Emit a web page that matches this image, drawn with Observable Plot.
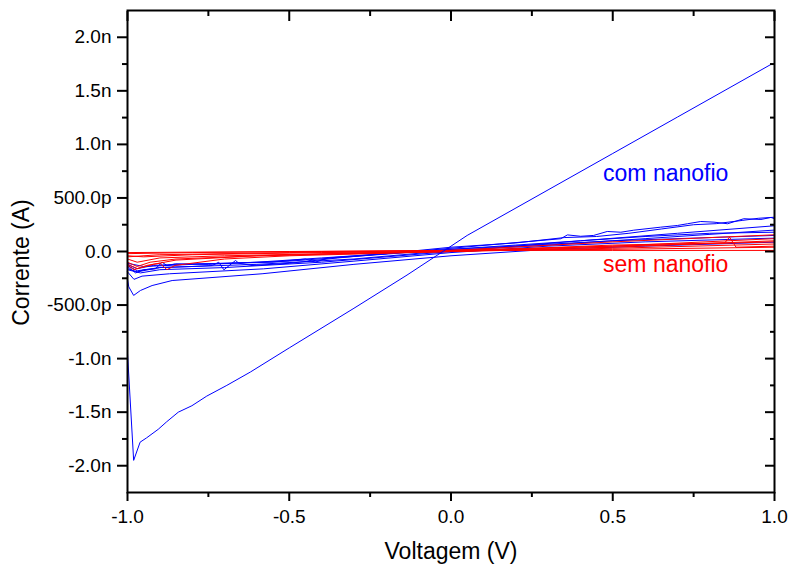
<!DOCTYPE html>
<html>
<head>
<meta charset="utf-8">
<script src="https://cdn.jsdelivr.net/npm/d3@7"></script>
<script src="https://cdn.jsdelivr.net/npm/@observablehq/plot@0.6"></script>
<style>
  html, body { margin: 0; padding: 0; background: #fff; }
  svg { display: block; }
</style>
</head>
<body>
<div id="chart"></div>
<script>
// Axis ticks (current in nA, voltage in V)
const xTicks = [-1, -0.5, 0, 0.5, 1];
const xTickLabels = ["-1.0", "-0.5", "0.0", "0.5", "1.0"];
const xMinorTicks = [-0.75, -0.25, 0.25, 0.75];
const yTicks = [-2, -1.5, -1, -0.5, 0, 0.5, 1, 1.5, 2];
const yTickLabels = ["-2.0n", "-1.5n", "-1.0n", "-500.0p", "0.0", "500.0p", "1.0n", "1.5n", "2.0n"];
const yMinorTicks = [-1.75, -1.25, -0.75, -0.25, 0.25, 0.75, 1.25, 1.75];

// "com nanofio" — large sweep
const b0V = [-1, -0.981, -0.961, -0.941, -0.905, -0.879, -0.843, -0.801, -0.755, -0.693, -0.62, -0.5, -0.3, -0.136, 0, 0.05, 0.3, 0.5, 0.7, 0.85, 0.991];
const b0I = [-0.95, -1.95, -1.78, -1.74, -1.66, -1.59, -1.50, -1.44, -1.35, -1.25, -1.125, -0.9, -0.53, -0.22, 0.05, 0.15, 0.575, 0.915, 1.255, 1.51, 1.75];

// "com nanofio" — other sweeps
const b1V = [-1, -0.996, -0.981, -0.96, -0.924, -0.862, -0.584, -0.3, 0, 0.3, 0.6, 1];
const b1I = [-0.26, -0.33, -0.41, -0.364, -0.318, -0.271, -0.208, -0.12, -0.04, 0.02, 0.05, 0.087];
const b2V = [-1, -0.98, -0.955, -0.87, -0.58, -0.3, 0, 0.3, 0.6, 1];
const b2I = [-0.19, -0.26, -0.23, -0.208, -0.162, -0.09, -0.01, 0.05, 0.09, 0.125];
const b3V = [-1, -0.975, -0.95, -0.914, -0.893, -0.878, -0.852, -0.75, -0.6, -0.4, -0.2, 0, 0.2, 0.4, 0.6, 0.8, 1];
const b3I = [-0.14, -0.2, -0.17, -0.162, -0.10, -0.131, -0.115, -0.12, -0.1, -0.06, -0.02, 0.02, 0.06, 0.1, 0.14, 0.17, 0.18];
const b4V = [-1, -0.97, -0.9, -0.8, -0.738, -0.718, -0.702, -0.666, -0.656, -0.615, -0.5, -0.35, -0.2, 0, 0.15, 0.339, 0.36, 0.401, 0.441, 0.483, 0.525, 0.565, 0.648, 0.7, 0.731, 0.772, 0.813, 0.855, 0.905, 0.958, 0.989, 1];
const b4I = [-0.13, -0.18, -0.15, -0.14, -0.131, -0.10, -0.171, -0.084, -0.109, -0.131, -0.11, -0.06, -0.02, 0.03, 0.07, 0.119, 0.155, 0.142, 0.15, 0.187, 0.18, 0.199, 0.227, 0.243, 0.259, 0.28, 0.274, 0.259, 0.306, 0.299, 0.318, 0.306];
const b5V = [-1, -0.97, -0.92, -0.85, -0.7, -0.55, -0.45, -0.42, -0.38, -0.2, 0, 0.2, 0.35, 0.45, 0.55, 0.65, 0.75, 0.82, 0.9, 0.95, 1];
const b5I = [-0.12, -0.16, -0.13, -0.12, -0.11, -0.1, -0.07, -0.1, -0.06, -0.02, 0.04, 0.08, 0.13, 0.14, 0.17, 0.21, 0.25, 0.26, 0.29, 0.31, 0.32];
const b6V = [-1, -0.96, -0.9, -0.7, -0.4, 0, 0.4, 0.7, 1];
const b6I = [-0.17, -0.2, -0.17, -0.15, -0.1, 0.0, 0.1, 0.17, 0.24];
const b7V = [-1, -0.97, -0.9, -0.6, -0.3, 0, 0.3, 0.6, 1];
const b7I = [-0.16, -0.19, -0.15, -0.12, -0.07, 0.01, 0.06, 0.12, 0.2];
const b8V = [-1, -0.95, -0.8, -0.5, 0, 0.5, 1];
const b8I = [-0.11, -0.14, -0.12, -0.09, 0.02, 0.1, 0.15];

// "sem nanofio" sweeps
const r1V = [-1, -0.5, 0, 0.5, 1];
const r1I = [-0.01, 0.0, 0.01, 0.01, 0.01];
const r2V = [-1, -0.8, -0.4, 0, 0.5, 1];
const r2I = [-0.02, -0.01, 0.0, 0.01, 0.02, 0.04];
const r3V = [-1, -0.95, -0.8, -0.4, 0, 0.5, 1];
const r3I = [-0.04, -0.05, -0.03, -0.01, 0.0, 0.03, 0.07];
const r4V = [-1, -0.97, -0.9, -0.7, -0.3, 0, 0.5, 1];
const r4I = [-0.07, -0.1, -0.06, -0.04, -0.015, 0.0, 0.04, 0.10];
const r5V = [-1, -0.97, -0.93, -0.85, -0.6, 0, 0.5, 1];
const r5I = [-0.1, -0.14, -0.1, -0.07, -0.04, 0.0, 0.05, 0.12];
const r6V = [-1, -0.97, -0.92, -0.9, -0.878, -0.853, -0.7, -0.5, 0, 0.5, 0.846, 0.861, 0.881, 1];
const r6I = [-0.12, -0.16, -0.12, -0.11, -0.17, -0.13, -0.07, -0.04, 0.0, 0.06, 0.08, 0.134, 0.04, 0.05];
const r7V = [-1, -0.98, -0.94, -0.85, -0.6, 0, 0.5, 1];
const r7I = [-0.13, -0.17, -0.13, -0.08, -0.04, 0.01, 0.09, 0.156];
const r8V = [-1, -0.9, -0.5, 0, 0.5, 1];
const r8I = [-0.05, -0.03, -0.01, 0.01, 0.05, 0.09];

const labelText = ["com nanofio", "sem nanofio"];
const labelV = [0.47, 0.47];
const labelI = [0.73, -0.12];
const labelColor = ["#0000ff", "#ff0000"];

function series(name, V, I) { return V.map((v, i) => ({curve: name, V: v, I: I[i]})); }

const blueMain = series("b0", b0V, b0I);
const blueRest = [].concat(
  series("b1", b1V, b1I), series("b2", b2V, b2I), series("b3", b3V, b3I), series("b4", b4V, b4I),
  series("b5", b5V, b5I), series("b6", b6V, b6I), series("b7", b7V, b7I), series("b8", b8V, b8I));
const red = [].concat(
  series("r1", r1V, r1I), series("r2", r2V, r2I), series("r3", r3V, r3I), series("r4", r4V, r4I),
  series("r5", r5V, r5I), series("r6", r6V, r6I), series("r7", r7V, r7I), series("r8", r8V, r8I));
const labels = labelText.map((t, i) => ({text: t, V: labelV[i], I: labelI[i], color: labelColor[i]}));

const xFmt = new Map(xTicks.map((d, i) => [d, xTickLabels[i]]));
const yFmt = new Map(yTicks.map((d, i) => [d, yTickLabels[i]]));
const FONT = "'Liberation Sans', Arial, Helvetica, sans-serif";

const chart = Plot.plot({
  width: 789,
  height: 564,
  marginLeft: 127,
  marginRight: 15,
  marginTop: 10,
  marginBottom: 72,
  x: {domain: [-1, 1]},
  y: {domain: [-2.25, 2.25]},
  style: {fontFamily: FONT, background: "#fff", color: "#000"},
  marks: [
    Plot.line(blueRest, {x: "V", y: "I", z: "curve", stroke: "#0000ff", strokeWidth: 1}),
    Plot.line(red, {x: "V", y: "I", z: "curve", stroke: "#ff0000", strokeWidth: 1}),
    Plot.line(blueMain, {x: "V", y: "I", stroke: "#0000ff", strokeWidth: 1}),
    Plot.text(labels, {x: "V", y: "I", text: "text", fill: "color", textAnchor: "start", fontSize: 23, fontFamily: FONT}),
    // bottom axis
    Plot.axisX(xTicks, {anchor: "bottom", tickSize: 9, tickPadding: 8, strokeWidth: 2, fontSize: 19, tickFormat: d => xFmt.get(d), label: null}),
    Plot.axisX(xMinorTicks, {anchor: "bottom", tickSize: 5, strokeWidth: 2, tickFormat: () => "", label: null}),
    // top axis (inward)
    Plot.axisX(xTicks, {anchor: "top", tickSize: -10, strokeWidth: 2, tickFormat: () => "", label: null}),
    Plot.axisX(xMinorTicks, {anchor: "top", tickSize: -5, strokeWidth: 2, tickFormat: () => "", label: null}),
    // left axis
    Plot.axisY(yTicks, {anchor: "left", tickSize: 10, tickPadding: 6, strokeWidth: 2, fontSize: 19, tickFormat: d => yFmt.get(d), label: null}),
    Plot.axisY(yMinorTicks, {anchor: "left", tickSize: 5, strokeWidth: 2, tickFormat: () => "", label: null}),
    // right axis (inward)
    Plot.axisY(yTicks, {anchor: "right", tickSize: -10, strokeWidth: 2, tickFormat: () => "", label: null}),
    Plot.axisY(yMinorTicks, {anchor: "right", tickSize: -5, strokeWidth: 2, tickFormat: () => "", label: null}),
    Plot.frame({stroke: "#000", strokeWidth: 2}),
    // axis titles
    Plot.text(["Voltagem (V)"], {frameAnchor: "bottom", dy: 59, textAnchor: "middle", lineAnchor: "middle", fontSize: 23, fontFamily: FONT, fill: "#000"}),
    Plot.text(["Corrente (A)"], {frameAnchor: "left", dx: -106, dy: 11, rotate: -90, textAnchor: "middle", lineAnchor: "middle", fontSize: 23, fontFamily: FONT, fill: "#000"})
  ]
});
document.getElementById("chart").appendChild(chart);
</script>
</body>
</html>
